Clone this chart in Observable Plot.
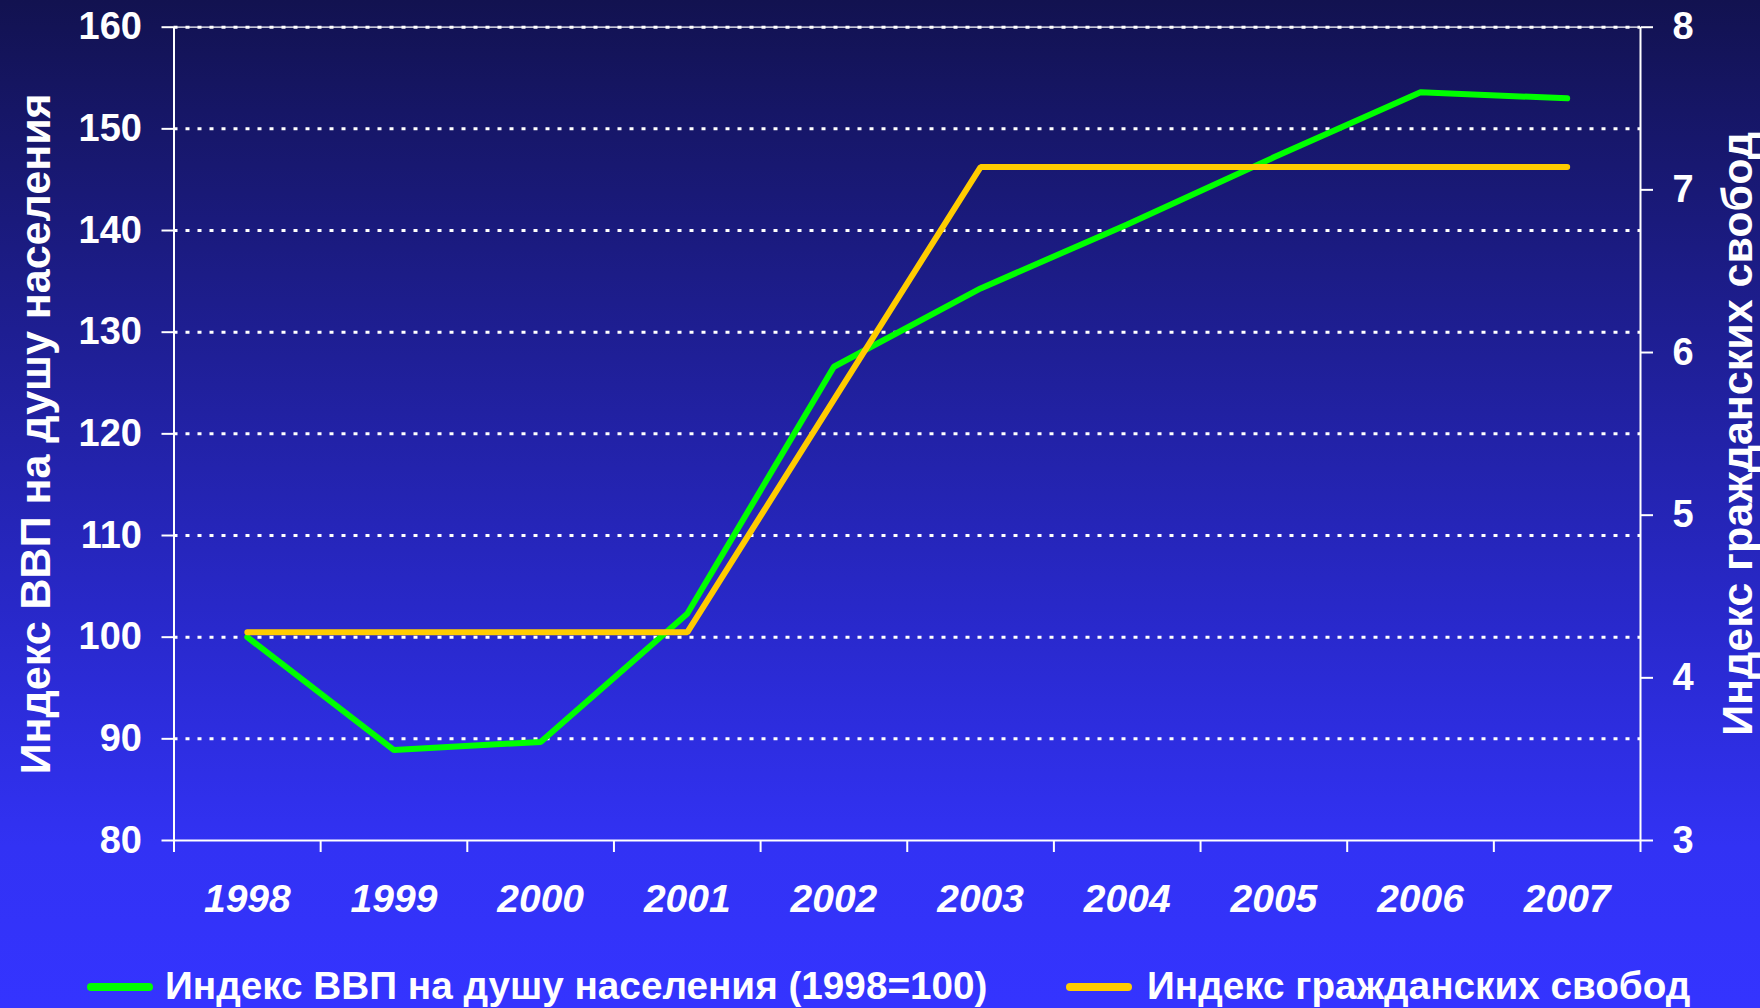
<!DOCTYPE html>
<html>
<head>
<meta charset="utf-8">
<script src="https://cdn.jsdelivr.net/npm/d3@7"></script>
<script src="https://cdn.jsdelivr.net/npm/@observablehq/plot@0.6"></script>
<style>
  html, body { margin: 0; padding: 0; width: 1760px; height: 1008px; overflow: hidden; }
  body {
    position: relative;
    background: linear-gradient(to bottom, #121250 0%, #2828c8 60%, #3232f4 84%, #3434ff 100%);
    font-family: "Liberation Sans", Arial, sans-serif;
  }
  #chart { position: absolute; left: 0; top: 0; }
  .sw { position: absolute; height: 8px; border-radius: 4px; }
  .lbl { position: absolute; color: #fff; font-weight: bold; font-size: 38.7px; line-height: 38.7px; white-space: nowrap; }
</style>
</head>
<body>
<div id="chart"></div>
<div id="legend"></div>
<script>
// ---- data ----
const years = [1998, 1999, 2000, 2001, 2002, 2003, 2004, 2005, 2006, 2007];
const gdpIndex = [100, 88.9, 89.7, 102.3, 126.6, 134.3, 140.6, 147.2, 153.6, 153.0];
const civilIndex = [4.28, 4.28, 4.28, 4.28, 5.71, 7.14, 7.14, 7.14, 7.14, 7.14];
const leftTicks = [80, 90, 100, 110, 120, 130, 140, 150, 160];
const rightTicks = [3, 4, 5, 6, 7, 8];
const seriesNames = ["Индекс ВВП на душу населения (1998=100)", "Индекс гражданских свобод"];
const axisTitles = ["Индекс ВВП на душу населения", "Индекс гражданских свобод"];
const seriesColors = ["#00ff00", "#ffcc00"];

// map right-axis values (3..8) onto the left scale (80..160)
const toLeft = v => leftTicks[0] + (v - rightTicks[0]) * (leftTicks[leftTicks.length - 1] - leftTicks[0]) / (rightTicks[rightTicks.length - 1] - rightTicks[0]);

const data = years.map((year, i) => ({year, gdp: gdpIndex[i], civil: civilIndex[i]}));
const x0 = years[0] - 0.5, x1 = years[years.length - 1] + 0.5;
const boundaries = d3.range(x0, x1 + 0.01, 1);
const yMin = leftTicks[0], yMax = leftTicks[leftTicks.length - 1];

const font = "'Liberation Sans', Arial, sans-serif";

const chart = Plot.plot({
  width: 1760,
  height: 940,
  marginLeft: 173.5,
  marginRight: 120,
  marginTop: 26.7,
  marginBottom: 100,
  x: {domain: [x0, x1]},
  y: {domain: [yMin, yMax]},
  style: {background: "transparent", color: "white", fontFamily: font, overflow: "visible"},
  marks: [
    // dotted gridlines
    Plot.ruleY(leftTicks.filter(t => t > yMin), {x1: x0, x2: x1, stroke: "white", strokeWidth: 3, strokeDasharray: "4,8", strokeOpacity: 1}),
    Plot.ruleY([yMax], {x1: x0, x2: x1, stroke: "white", strokeWidth: 1.2}),
    // axis lines
    Plot.ruleX([x0, x1], {y1: yMin, y2: yMax, stroke: "white", strokeWidth: 2}),
    Plot.ruleY([yMin], {x1: x0, x2: x1, stroke: "white", strokeWidth: 2}),
    // left axis
    Plot.axisY({anchor: "left", ticks: leftTicks, tickSize: 12, tickPadding: 20, strokeWidth: 2,
      fontSize: 38, fontWeight: "bold", label: null}),
    // right axis
    Plot.axisY({anchor: "right", ticks: rightTicks.map(toLeft), tickFormat: (d, i) => String(rightTicks[i]),
      tickSize: 12, tickPadding: 20, strokeWidth: 2, fontSize: 38, fontWeight: "bold", label: null}),
    // x ticks at category boundaries
    Plot.axisX({ticks: boundaries, tickSize: 12, tickFormat: () => "", strokeWidth: 2, label: null}),
    // x labels
    Plot.axisX({ticks: years, tickSize: 0, tickPadding: 44, tickFormat: d => String(d),
      fontSize: 39, fontWeight: "bold", fontStyle: "italic", label: null}),
    // axis titles
    Plot.text([axisTitles[0]], {frameAnchor: "left", text: d => d, rotate: -90, dx: -138,
      fontSize: 43, fontWeight: "bold", fill: "white", textAnchor: "middle", lineAnchor: "middle"}),
    Plot.text([axisTitles[1]], {frameAnchor: "right", text: d => d, rotate: -90, dx: 98,
      fontSize: 43, fontWeight: "bold", fill: "white", textAnchor: "middle", lineAnchor: "middle"}),
    // series
    Plot.line(data, {x: "year", y: "gdp", stroke: seriesColors[0], strokeWidth: 6,
      strokeLinecap: "round", strokeLinejoin: "miter"}),
    Plot.line(data, {x: "year", y: d => toLeft(d.civil), stroke: seriesColors[1], strokeWidth: 6,
      strokeLinecap: "round", strokeLinejoin: "miter"})
  ]
});
document.getElementById("chart").appendChild(chart);

// legend below the plot
const legend = document.getElementById("legend");
const legendLayout = [{sw: 87, lbl: 165}, {sw: 1066, lbl: 1147}];
seriesNames.forEach((name, i) => {
  const sw = document.createElement("div");
  sw.className = "sw";
  sw.style.left = legendLayout[i].sw + "px";
  sw.style.width = "66px";
  sw.style.top = "983px";
  sw.style.background = seriesColors[i];
  legend.appendChild(sw);
  const lbl = document.createElement("div");
  lbl.className = "lbl";
  lbl.style.left = legendLayout[i].lbl + "px";
  lbl.style.top = "967px";
  lbl.textContent = name;
  legend.appendChild(lbl);
});
</script>
</body>
</html>
